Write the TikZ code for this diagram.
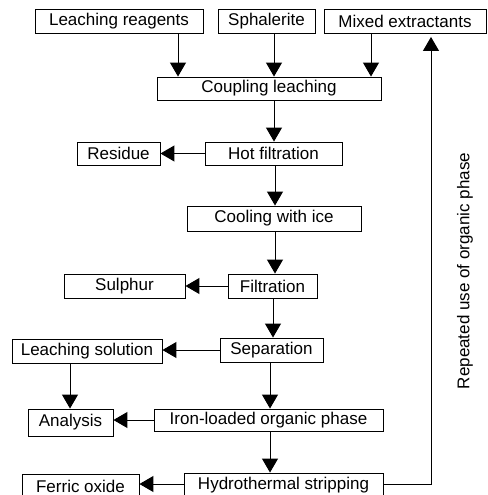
\documentclass[tikz,border=0pt]{standalone}
\usepackage{fontspec}
\setmainfont{Liberation Sans}
\usetikzlibrary{arrows.meta}
\begin{document}
\begin{tikzpicture}[x=1pt,y=-1pt,
  box/.style={draw, line width=0.9pt, inner sep=0pt, align=center,
    font=\fontsize{17}{20}\selectfont},
  arr/.style={line width=1pt, -{Triangle[length=14pt,width=16pt]}}]
\useasboundingbox (0,0) rectangle (487,495);
% boxes
\node[box, minimum width=168, minimum height=24] (LR) at (119,21) {Leaching reagents};
\node[box, minimum width=97, minimum height=24] (SP) at (266.5,21) {Sphalerite};
\node[box, minimum width=162, minimum height=24] (MX) at (405,21) {Mixed extractants};
\node[box, minimum width=224, minimum height=23] (CL) at (269,88.5) {Coupling leaching};
\node[box, minimum width=137, minimum height=23] (HF) at (273.5,153.5) {Hot filtration};
\node[box, minimum width=83, minimum height=23] (RS) at (118.5,153.5) {Residue};
\node[box, minimum width=174, minimum height=25] (CI) at (274,218.5) {Cooling with ice};
\node[box, minimum width=89, minimum height=24] (FI) at (272.5,286) {Filtration};
\node[box, minimum width=121, minimum height=24] (SU) at (124.5,286) {Sulphur};
\node[box, minimum width=103, minimum height=24] (SE) at (271.5,350) {Separation};
\node[box, minimum width=150, minimum height=24] (LS) at (87,351) {Leaching solution};
\node[box, minimum width=85, minimum height=27] (AN) at (70.5,422.5) {Analysis};
\node[box, minimum width=229, minimum height=22] (IO) at (268.5,420) {Iron-loaded organic phase};
\node[box, minimum width=199, minimum height=25] (HS) at (283.5,485.5) {Hydrothermal stripping};
\node[box, minimum width=117, minimum height=25] (FO) at (80.5,486.5) {Ferric oxide};
\node[rotate=90, font=\fontsize{17}{20}\selectfont, inner sep=0pt] (RU) at (465,271) {Repeated use of organic phase};
% column guides
\coordinate (xa) at (178,0);
\coordinate (xb) at (274,0);
\coordinate (xc) at (371,0);
\coordinate (xd) at (275,0);
\coordinate (xe) at (273,0);
\coordinate (xf) at (70,0);
\coordinate (xg) at (270,0);
\coordinate (xr) at (431,0);
\coordinate (ya) at (0,484);
% arrows
\draw[arr] (LR.south -| xa) -- (CL.north -| xa);
\draw[arr] (SP.south -| xb) -- (CL.north -| xb);
\draw[arr] (MX.south -| xc) -- (CL.north -| xc);
\draw[arr] (CL.south -| xb) -- (HF.north -| xb);
\draw[arr] (HF.west) -- (RS.east);
\draw[arr] (HF.south -| xd) -- (CI.north -| xd);
\draw[arr] (CI.south -| xd) -- (FI.north -| xd);
\draw[arr] (FI.west) -- (SU.east);
\draw[arr] (FI.south -| xe) -- (SE.north -| xe);
\draw[arr] (SE.west) -- (SE.west -| LS.east);
\draw[arr] (LS.south -| xf) -- (AN.north -| xf);
\draw[arr] (SE.south -| xg) -- (IO.north -| xg);
\draw[arr] (IO.west) -- (IO.west -| AN.east);
\draw[arr] (IO.south -| xg) -- (HS.north -| xg);
\draw[arr] (HS.west |- ya) -- (FO.east |- ya);
\draw[arr] (HS.east |- ya) -- (xr |- ya) -- ([yshift=-3.5pt]MX.south -| xr);
\end{tikzpicture}
\end{document}
